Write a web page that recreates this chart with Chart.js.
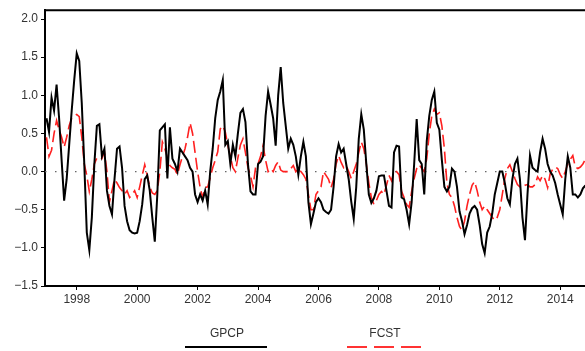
<!DOCTYPE html>
<html>
<head>
<meta charset="utf-8">
<script src="https://cdn.jsdelivr.net/npm/chart.js@4.4.1/dist/chart.umd.min.js"></script>
<style>
  html, body { margin: 0; padding: 0; background: #fff; overflow: hidden; }
  #chart { display: block; }
</style>
</head>
<body>
<canvas id="chart" width="585" height="351"></canvas>
<script>
"use strict";

// monthly anomalies, Jan 1997 .. Dec 2014
const startYear = 1997;

const gpcp = [
  0.70, 0.52, 0.97, 0.80, 1.14, 0.70, 0.15, -0.38, -0.10, 0.35, 0.80, 1.20,        // 1997
  1.55, 1.45, 0.90, 0.10, -0.80, -1.03, -0.60, 0.10, 0.60, 0.62, 0.20, 0.30,      // 1998
  -0.25, -0.45, -0.56, -0.10, 0.30, 0.33, 0.05, -0.45, -0.65, -0.77, -0.80, -0.81, // 1999
  -0.80, -0.65, -0.43, -0.10, -0.05, -0.25, -0.60, -0.92, -0.30, 0.54, 0.58, 0.62, // 2000
  -0.09, 0.58, 0.17, 0.10, 0.00, 0.30, 0.25, 0.20, 0.15, 0.05, 0.00, -0.30,       // 2001
  -0.40, -0.30, -0.38, -0.25, -0.43, 0.00, 0.30, 0.70, 0.94, 1.05, 1.20, 0.35,    // 2002
  0.40, 0.10, 0.35, 0.20, 0.50, 0.77, 0.82, 0.65, 0.10, -0.26, -0.30, -0.30,      // 2003
  0.10, 0.13, 0.20, 0.73, 1.05, 0.88, 0.70, 0.34, 1.00, 1.37, 0.90, 0.60,         // 2004
  0.30, 0.43, 0.35, 0.20, -0.04, 0.20, 0.39, 0.20, -0.40, -0.69, -0.55, -0.40,    // 2005
  -0.35, -0.40, -0.50, -0.53, -0.55, -0.50, -0.20, 0.20, 0.36, 0.25, 0.30, 0.10,  // 2006
  -0.10, -0.39, -0.62, -0.20, 0.43, 0.75, 0.55, 0.10, -0.30, -0.41, -0.35, -0.25, // 2007
  -0.06, -0.05, -0.05, -0.25, -0.45, -0.47, 0.25, 0.34, 0.33, -0.34, -0.36, -0.50, // 2008
  -0.69, -0.40, 0.10, 0.69, 0.15, 0.10, -0.30, 0.40, 0.73, 0.94, 1.05, 0.64,      // 2009
  0.55, 0.15, -0.20, -0.26, -0.20, 0.04, 0.00, -0.20, -0.52, -0.65, -0.82, -0.70, // 2010
  -0.55, -0.48, -0.45, -0.50, -0.70, -0.95, -1.07, -0.80, -0.72, -0.55, -0.30, -0.15, // 2011
  0.00, 0.00, -0.15, -0.35, -0.43, -0.10, 0.10, 0.17, -0.10, -0.60, -0.90, -0.30, // 2012
  0.21, 0.05, 0.02, 0.00, 0.25, 0.43, 0.30, 0.10, 0.00, -0.05, -0.15, -0.30,      // 2013
  -0.43, -0.56, -0.10, 0.20, 0.05, -0.30, -0.30, -0.34, -0.30, -0.22, -0.18, -0.15 // 2014
];

const fcst = [
  0.45, 0.20, 0.28, 0.50, 0.67, 0.55, 0.45, 0.32, 0.45, 0.60, 0.70, 0.73,         // 1997
  0.75, 0.72, 0.45, 0.10, -0.05, -0.26, -0.10, 0.10, 0.18, 0.19, 0.17, 0.26,      // 1998
  0.00, -0.40, -0.25, -0.10, -0.15, -0.21, -0.25, -0.30, -0.25, -0.34, -0.30, -0.25, // 1999
  -0.34, -0.20, -0.05, 0.09, -0.05, -0.20, -0.28, -0.30, -0.25, 0.00, 0.39, 0.30, // 2000
  0.18, 0.08, 0.05, 0.03, -0.04, 0.09, 0.20, 0.30, 0.45, 0.64, 0.50, 0.25,        // 2001
  0.00, -0.21, -0.34, -0.21, -0.20, -0.08, 0.05, 0.15, 0.26, 0.56, 0.60, 0.52,    // 2002
  0.34, 0.20, 0.05, 0.00, 0.18, 0.35, 0.43, 0.25, 0.05, -0.05, -0.20, 0.05,       // 2003
  0.10, 0.20, 0.34, 0.15, 0.00, 0.04, 0.00, 0.08, 0.13, 0.02, 0.00, 0.00,         // 2004
  0.00, 0.04, 0.08, 0.00, 0.04, 0.00, -0.04, -0.10, -0.30, -0.50, -0.50, -0.30,   // 2005
  -0.25, -0.20, 0.00, -0.05, -0.10, -0.21, -0.10, 0.10, 0.21, 0.12, 0.05, 0.08,   // 2006
  0.00, -0.09, 0.00, 0.10, 0.25, 0.39, 0.30, 0.10, -0.15, -0.34, -0.43, -0.38,    // 2007
  -0.30, -0.26, -0.30, -0.18, -0.05, -0.12, 0.00, 0.00, -0.04, -0.26, -0.34, -0.43, // 2008
  -0.47, -0.26, -0.09, 0.04, 0.09, 0.04, 0.00, 0.17, 0.50, 0.73, 0.82, 0.75,      // 2009
  0.77, 0.60, 0.30, -0.15, -0.30, -0.34, -0.45, -0.60, -0.72, -0.77, -0.65, -0.45, // 2010
  -0.30, -0.18, -0.13, -0.25, -0.40, -0.50, -0.45, -0.50, -0.55, -0.60, -0.64, -0.60, // 2011
  -0.50, -0.30, -0.09, 0.04, 0.09, 0.00, -0.09, -0.17, -0.20, -0.20, -0.18, -0.17, // 2012
  -0.20, -0.20, -0.17, -0.07, -0.12, -0.05, -0.10, -0.21, -0.03, 0.03, 0.06, 0.04, // 2013
  -0.04, -0.09, 0.00, 0.10, 0.16, 0.21, 0.06, 0.04, 0.06, 0.10, 0.16, 0.18        // 2014
];

const yTicks = [-1.5, -1.0, -0.5, 0.0, 0.5, 1.0, 1.5, 2.0];
const xTicks = [1998, 2000, 2002, 2004, 2006, 2008, 2010, 2012, 2014];
const seriesNames = ["GPCP", "FCST"];

const xMin = 1996.95;
const xMax = 2014.82;

function toPoints(values) {
  return values.map((v, i) => ({ x: startYear + i / 12, y: v }));
}

function formatY(v) {
  return v.toFixed(1).replace("-", "\u2212");
}

// frame top line and the legend below the plot
const framePlugin = {
  id: "frame",
  afterDraw(chart) {
    const ctx = chart.ctx;
    const area = chart.chartArea;
    ctx.save();
    ctx.strokeStyle = "#000";
    ctx.lineWidth = 2;
    ctx.beginPath();
    ctx.moveTo(area.left - 1, area.top);
    ctx.lineTo(chart.width, area.top);
    ctx.stroke();

    ctx.font = "12px 'Liberation Sans', Arial, sans-serif";
    ctx.fillStyle = "#333";
    ctx.textAlign = "center";
    ctx.textBaseline = "middle";
    ctx.fillText(seriesNames[0], 227, 334);
    ctx.fillText(seriesNames[1], 385, 334);

    ctx.strokeStyle = "#000";
    ctx.lineWidth = 2;
    ctx.beginPath();
    ctx.moveTo(185, 347);
    ctx.lineTo(267, 347);
    ctx.stroke();

    ctx.strokeStyle = "#ff3333";
    ctx.setLineDash([20, 7]);
    ctx.beginPath();
    ctx.moveTo(347, 347);
    ctx.lineTo(424, 347);
    ctx.stroke();
    ctx.restore();
  }
};

const ctx = document.getElementById("chart").getContext("2d");

new Chart(ctx, {
  type: "line",
  data: {
    datasets: [
      {
        label: seriesNames[0],
        data: toPoints(gpcp),
        borderColor: "#000",
        borderWidth: 2,
        pointRadius: 0,
        tension: 0
      },
      {
        label: seriesNames[1],
        data: toPoints(fcst),
        borderColor: "#ff2020",
        borderWidth: 1.6,
        borderDash: [12, 5],
        pointRadius: 0,
        tension: 0
      },
      {
        label: "zero",
        data: [{ x: xMin, y: 0 }, { x: xMax, y: 0 }],
        borderColor: "#666",
        borderWidth: 1.4,
        borderDash: [1.5, 8.5],
        pointRadius: 0
      }
    ]
  },
  options: {
    responsive: false,
    animation: false,
    devicePixelRatio: 1,
    layout: { padding: { top: 6, right: 0, left: 0, bottom: 0 } },
    plugins: {
      legend: { display: false },
      tooltip: { enabled: false }
    },
    scales: {
      x: {
        type: "linear",
        min: xMin,
        max: xMax,
        afterBuildTicks: scale => { scale.ticks = xTicks.map(v => ({ value: v })); },
        afterFit: scale => { scale.height = 65; },
        grid: { drawOnChartArea: false, drawTicks: true, tickLength: 4, color: "#000" },
        border: { color: "#000", width: 2 },
        ticks: {
          color: "#333",
          padding: 2,
          maxRotation: 0,
          font: { family: "'Liberation Sans', Arial, sans-serif", size: 12 },
          callback: v => String(v)
        }
      },
      y: {
        min: -1.5,
        max: 2.116,
        afterBuildTicks: scale => { scale.ticks = yTicks.map(v => ({ value: v })); },
        afterFit: scale => { scale.width = 45; },
        grid: { drawOnChartArea: false, drawTicks: true, tickLength: 4, color: "#000" },
        border: { color: "#000", width: 2 },
        ticks: {
          color: "#333",
          padding: 3,
          font: { family: "'Liberation Sans', Arial, sans-serif", size: 12 },
          callback: v => formatY(v)
        }
      }
    }
  },
  plugins: [framePlugin]
});
</script>
</body>
</html>
